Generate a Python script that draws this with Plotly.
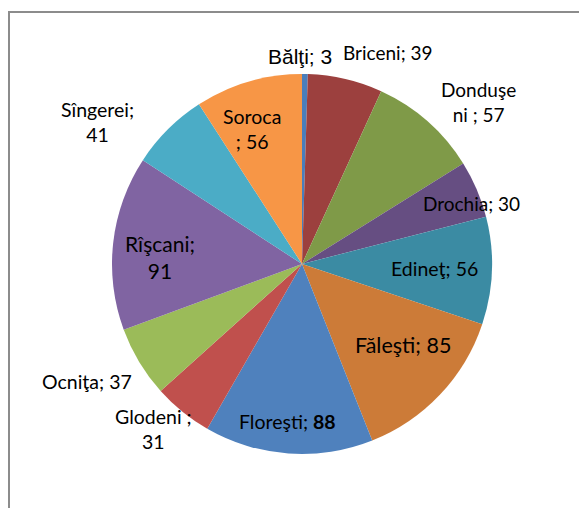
import math
import plotly.graph_objects as go

# Data
districts = ['Bălţi', 'Briceni', 'Donduşeni', 'Drochia', 'Edineţ', 'Făleşti',
             'Floreşti', 'Glodeni', 'Ocniţa', 'Rîşcani', 'Sîngerei', 'Soroca']
values = [3, 39, 57, 30, 56, 85, 88, 31, 37, 91, 41, 56]

colors = ['#4A7EBB', '#9C403E', '#7F9A48', '#664E82', '#3B8BA3', '#CC7B38',
          '#4F81BD', '#C0504D', '#9BBB59', '#8064A2', '#4BACC6', '#F79646']

# Label text (Excel style, some labels wrapped)
label_text = ['Bălţi; 3', 'Briceni; 39', 'Donduşe<br>ni ; 57', 'Drochia; 30',
              'Edineţ; 56', 'Făleşti; 85', 'Floreşti; <b>88</b>', 'Glodeni ;<br>31',
              'Ocniţa; 37', 'Rîşcani;<br>91', 'Sîngerei;<br>41', 'Soroca<br>; 56']

# Label placement: distance from centre (in radii) and angular nudge (deg)
label_dist = [1.09, 1.20, 1.26, 0.95, 0.70, 0.68, 0.83, 1.17, 1.29, 0.75, 1.31, 0.76]
label_nudge = [-1.5, 9, 6, 3.5, 0, -4.5, 1, 3, 2.5, -3.5, -10.5, -4]
label_size = [21, 19, 19, 19, 19.5, 21.5, 19.5, 19.5, 19.5, 21, 19.5, 19.5]

# page has an 8px body margin, so the figure is drawn 8px in
W, H = 579, 500
cx, cy, r = 294, 256, 190   # pie centre / radius in px

fig = go.Figure(
    go.Pie(
        labels=districts,
        values=values,
        sort=False,
        direction='clockwise',
        rotation=0,
        marker=dict(colors=colors, line=dict(width=0)),
        textinfo='none',
        hoverinfo='label+value',
        domain=dict(x=[(cx - r) / W, (cx + r) / W],
                    y=[1 - (cy + r) / H, 1 - (cy - r) / H]),
        showlegend=False
    )
)

# Labels computed from the slice mid angles
total = sum(values)
cum = 0
for i, v in enumerate(values):
    mid = (cum + v / 2) / total * 360 + label_nudge[i]
    cum += v
    a = math.radians(mid)
    px = cx + r * label_dist[i] * math.sin(a)
    py = cy - r * label_dist[i] * math.cos(a)
    fig.add_annotation(
        x=px / W, y=1 - py / H, xref='paper', yref='paper',
        text=label_text[i], showarrow=False,
        xanchor='center', yanchor='middle',
        font=dict(size=label_size[i], color='black',
                  family='Liberation Sans' if i == 0 else 'Lato')
    )

# Chart area border (clipped at right / bottom)
fig.add_shape(type='rect', xref='paper', yref='paper',
              x0=1 / W, x1=1.05, y0=-0.05, y1=1 - 4 / H,
              line=dict(color='#8C8C8C', width=2))

fig.update_layout(
    width=W, height=H,
    margin=dict(l=0, r=0, t=0, b=0),
    paper_bgcolor='white',
    plot_bgcolor='white'
)

fig.write_html("out.html")
